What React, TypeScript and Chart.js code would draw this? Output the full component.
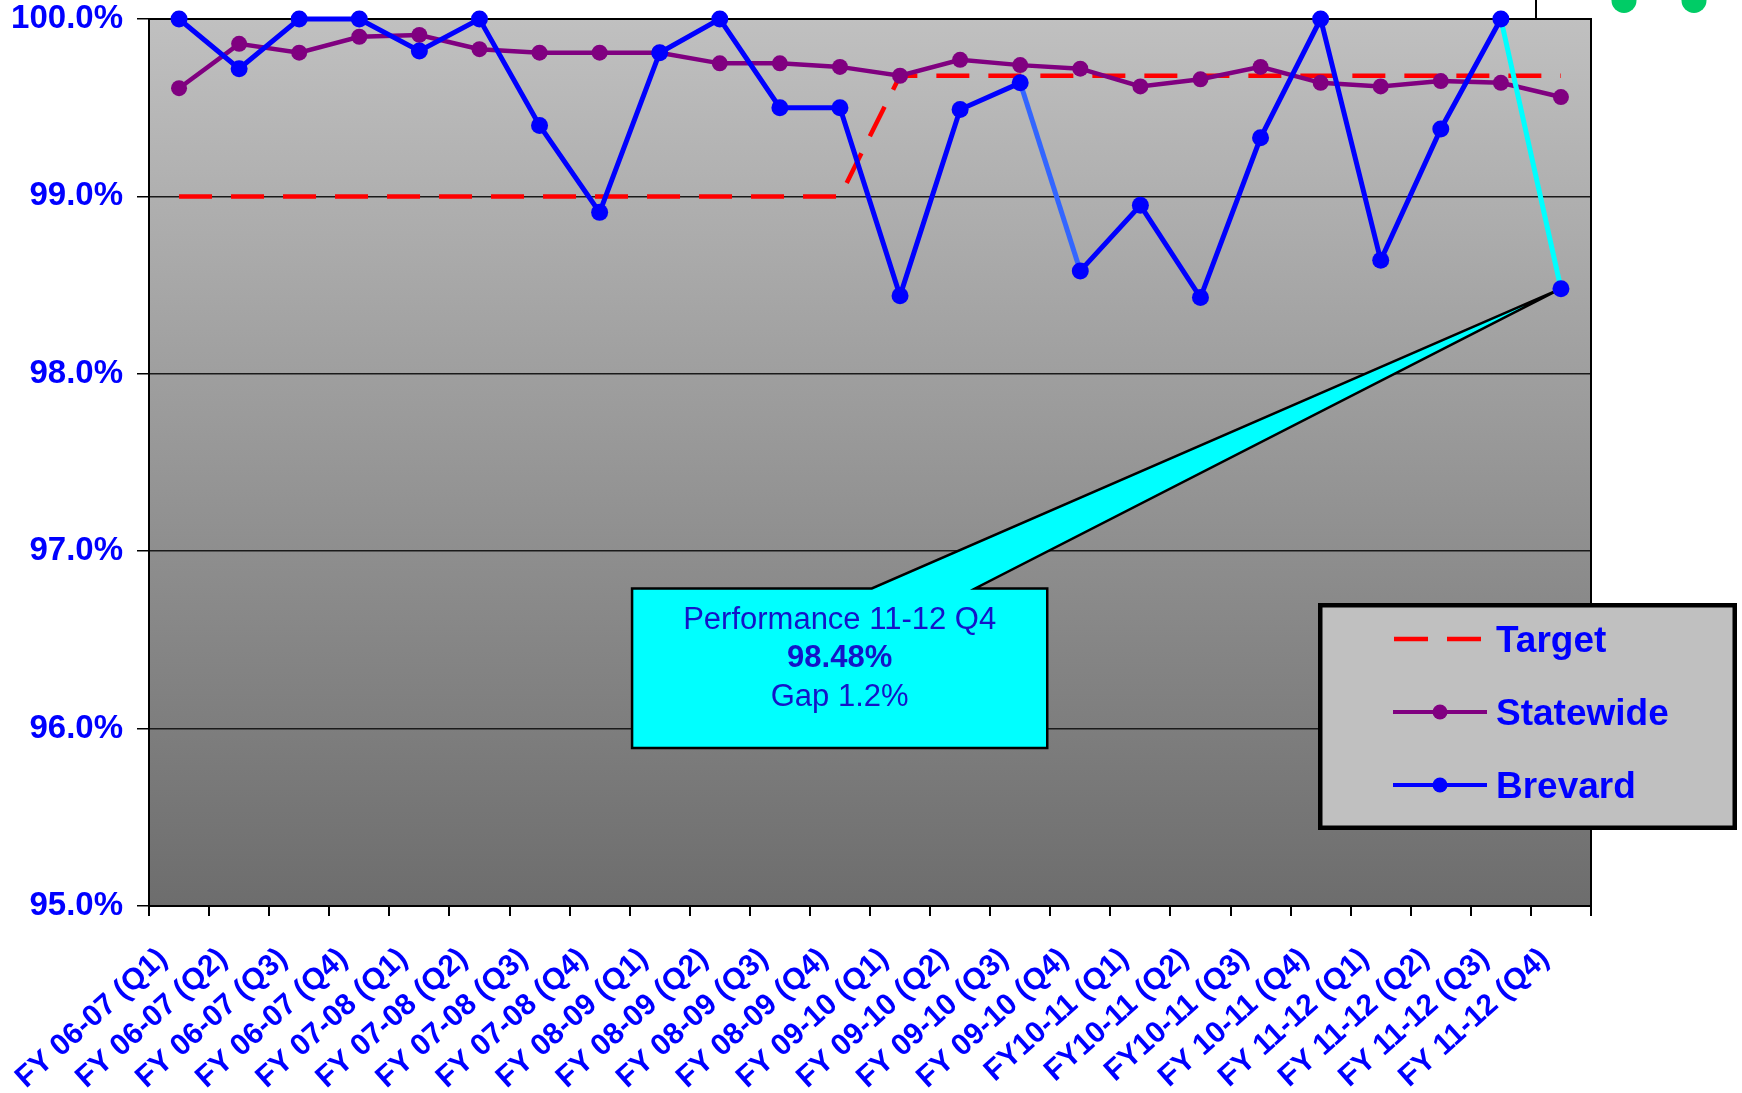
import React, { useEffect, useRef } from "react";
import { Chart, registerables } from "chart.js";

Chart.register(...registerables);

// ---------- data ----------
const categories = [
  "FY 06-07 (Q1)", "FY 06-07 (Q2)", "FY 06-07 (Q3)", "FY 06-07 (Q4)",
  "FY 07-08 (Q1)", "FY 07-08 (Q2)", "FY 07-08 (Q3)", "FY 07-08 (Q4)",
  "FY 08-09 (Q1)", "FY 08-09 (Q2)", "FY 08-09 (Q3)", "FY 08-09 (Q4)",
  "FY 09-10 (Q1)", "FY 09-10 (Q2)", "FY 09-10 (Q3)", "FY 09-10 (Q4)",
  "FY10-11 (Q1)", "FY10-11 (Q2)", "FY10-11 (Q3)", "FY 10-11 (Q4)",
  "FY 11-12 (Q1)", "FY 11-12 (Q2)", "FY 11-12 (Q3)", "FY 11-12 (Q4)",
];

const target = [
  99.0, 99.0, 99.0, 99.0, 99.0, 99.0, 99.0, 99.0, 99.0, 99.0, 99.0, 99.0,
  99.68, 99.68, 99.68, 99.68, 99.68, 99.68, 99.68, 99.68, 99.68, 99.68, 99.68, 99.68,
];

const statewide = [
  99.61, 99.86, 99.81, 99.9, 99.91, 99.83, 99.81, 99.81, 99.81, 99.75, 99.75, 99.73,
  99.68, 99.77, 99.74, 99.72, 99.62, 99.66, 99.73, 99.64, 99.62, 99.65, 99.64, 99.56,
];

const brevard = [
  100.0, 99.72, 100.0, 100.0, 99.82, 100.0, 99.4, 98.91, 99.81, 100.0, 99.5, 99.5,
  98.44, 99.49, 99.64, 98.58, 98.95, 98.43, 99.33, 100.0, 98.64, 99.38, 100.0, 98.48,
];

const yTicks = [95, 96, 97, 98, 99, 100];

const seriesNames = ["Target", "Statewide", "Brevard"];

// callout text
const calloutTitle = "Performance 11-12 Q4";
const calloutValue = "98.48%";
const calloutGap = "Gap 1.2%";

// ---------- styles / layout ----------
const FONT = "'Liberation Sans', Arial, Helvetica, sans-serif";
const BLUE = "#0000FF";
const PURPLE = "#800080";
const RED = "#FF0000";
const CYAN = "#00FFFF";

// callout placement in data units (category index / percent)
const CALLOUT_BOX = { x0: 7.54, x1: 14.45, y0: 96.79, y1: 95.89 };
const CALLOUT_BASE = { x0: 11.53, x1: 13.25 };
const CALLOUT_POINT_INDEX = 23;

const bgPlugin = {
  id: "bgPlugin",
  beforeDraw(chart: any) {
    const { ctx, chartArea: a, width, height } = chart;
    ctx.save();
    ctx.fillStyle = "#FFFFFF";
    ctx.fillRect(0, 0, width, height);
    const g = ctx.createLinearGradient(0, a.top, 0, a.bottom);
    g.addColorStop(0, "#C0C0C0");
    g.addColorStop(1, "#6D6D6D");
    ctx.fillStyle = g;
    ctx.fillRect(a.left, a.top, a.right - a.left, a.bottom - a.top);
    ctx.restore();
  },
};

const calloutPlugin = {
  id: "calloutPlugin",
  beforeDatasetsDraw(chart: any) {
    const { ctx, chartArea: a } = chart;
    const xs = chart.scales.x;
    const ys = chart.scales.y;
    ctx.save();
    // plot border
    ctx.strokeStyle = "#000";
    ctx.lineWidth = 2;
    ctx.strokeRect(a.left, a.top, a.right - a.left, a.bottom - a.top);

    const L = xs.getPixelForValue(CALLOUT_BOX.x0);
    const R = xs.getPixelForValue(CALLOUT_BOX.x1);
    const T = ys.getPixelForValue(CALLOUT_BOX.y0);
    const B = ys.getPixelForValue(CALLOUT_BOX.y1);
    const bL = xs.getPixelForValue(CALLOUT_BASE.x0);
    const bR = xs.getPixelForValue(CALLOUT_BASE.x1);
    const meta = chart.getDatasetMeta(2);
    const pt = meta.data[CALLOUT_POINT_INDEX];
    const tx = pt.x;
    const ty = pt.y;

    ctx.beginPath();
    ctx.moveTo(L, T);
    ctx.lineTo(bL, T);
    ctx.lineTo(tx, ty);
    ctx.lineTo(bR, T);
    ctx.lineTo(R, T);
    ctx.lineTo(R, B);
    ctx.lineTo(L, B);
    ctx.closePath();
    ctx.fillStyle = CYAN;
    ctx.fill();
    ctx.lineWidth = 2.5;
    ctx.lineJoin = "miter";
    ctx.strokeStyle = "#000";
    ctx.stroke();

    const cx = (L + R) / 2;
    const h = B - T;
    ctx.fillStyle = "#1414C8";
    ctx.textAlign = "center";
    ctx.textBaseline = "middle";
    ctx.font = `31px ${FONT}`;
    ctx.fillText(calloutTitle, cx, T + h * 0.2);
    ctx.font = `bold 31px ${FONT}`;
    ctx.fillText(calloutValue, cx, T + h * 0.44);
    ctx.font = `31px ${FONT}`;
    ctx.fillText(calloutGap, cx, T + h * 0.685);
    ctx.restore();
  },
};

const legendPlugin = {
  id: "customLegend",
  afterDraw(chart: any) {
    const { ctx, chartArea: a } = chart;
    ctx.save();
    const left = a.right - 273;
    const top = a.top + 584;
    const w = 419;
    const h = 227;
    ctx.fillStyle = "#C0C0C0";
    ctx.fillRect(left, top, w, h);
    ctx.lineWidth = 4.5;
    ctx.strokeStyle = "#000";
    ctx.strokeRect(left + 2.25, top + 2.25, w - 4.5, h - 4.5);

    const rows = [top + 36, top + 109, top + 182];
    const lx0 = left + 75;
    const lx1 = left + 169;
    const colors = [RED, PURPLE, BLUE];
    rows.forEach((y, i) => {
      ctx.strokeStyle = colors[i];
      ctx.lineWidth = i === 0 ? 4.5 : 4;
      ctx.setLineDash(i === 0 ? [34, 19] : []);
      ctx.beginPath();
      ctx.moveTo(lx0 + (i === 0 ? 1 : 0), y);
      ctx.lineTo(lx1, y);
      ctx.stroke();
      ctx.setLineDash([]);
      if (i > 0) {
        ctx.fillStyle = colors[i];
        ctx.beginPath();
        ctx.arc((lx0 + lx1) / 2, y, 7.5, 0, Math.PI * 2);
        ctx.fill();
      }
      ctx.fillStyle = BLUE;
      ctx.font = `bold 37px ${FONT}`;
      ctx.textAlign = "left";
      ctx.textBaseline = "middle";
      ctx.fillText(seriesNames[i], left + 178, y + 3);
    });

    // stray slide artifacts in the top-right corner
    ctx.strokeStyle = "#000";
    ctx.lineWidth = 2;
    ctx.beginPath();
    ctx.moveTo(a.right - 55, 0);
    ctx.lineTo(a.right - 55, a.top);
    ctx.stroke();
    ctx.fillStyle = "#00CC66";
    [a.right + 33, a.right + 103].forEach((x) => {
      ctx.beginPath();
      ctx.arc(x, 0.5, 12.5, 0, Math.PI * 2);
      ctx.fill();
    });
    ctx.restore();
  },
};

export default function App() {
  const ref = useRef<HTMLCanvasElement | null>(null);

  useEffect(() => {
    if (!ref.current) return;
    const chart = new Chart(ref.current, {
      type: "line",
      data: {
        labels: categories,
        datasets: [
          {
            label: seriesNames[0],
            data: target,
            borderColor: RED,
            backgroundColor: RED,
            borderWidth: 4.5,
            borderDash: [33, 19],
            pointRadius: 0,
            tension: 0,
            order: 2,
          },
          {
            label: seriesNames[1],
            data: statewide,
            borderColor: PURPLE,
            backgroundColor: PURPLE,
            borderWidth: 4.5,
            pointRadius: 8,
            pointBorderWidth: 0,
            pointBackgroundColor: PURPLE,
            tension: 0,
            order: 1,
          },
          {
            label: seriesNames[2],
            data: brevard,
            borderColor: BLUE,
            backgroundColor: BLUE,
            borderWidth: 5,
            pointRadius: 8.5,
            pointBorderWidth: 0,
            pointBackgroundColor: BLUE,
            tension: 0,
            order: 0,
            segment: {
              borderColor: (c: any) =>
                c.p0DataIndex === 14 ? "#3366FF" : c.p0DataIndex === 22 ? CYAN : undefined,
            },
          },
        ],
      },
      options: {
        responsive: false,
        animation: false,
        devicePixelRatio: 1,
        events: [],
        layout: { padding: { top: 19, right: 151, left: 0, bottom: 0 } },
        plugins: {
          legend: { display: false },
          tooltip: { enabled: false },
          title: { display: false },
        },
        datasets: { line: { clip: false as any } },
        scales: {
          x: {
            type: "category",
            offset: true,
            grid: {
              offset: true,
              drawOnChartArea: false,
              drawTicks: true,
              tickLength: 10,
              color: "#000",
              tickColor: "#000",
              lineWidth: 2,
            },
            border: { display: true, color: "#000", width: 2 },
            ticks: {
              autoSkip: false,
              maxRotation: 42,
              minRotation: 42,
              color: BLUE,
              padding: 25,
              labelOffset: -16,
              font: { family: FONT, size: 30, weight: "bold" },
            },
            afterFit: (s: any) => {
              s.height = 187;
              s.paddingLeft = 0;
              s.paddingRight = 0;
              s.paddingTop = 0;
              s.paddingBottom = 0;
            },
          },
          y: {
            min: 95,
            max: 100,
            afterBuildTicks: (s: any) => {
              s.ticks = yTicks.map((v) => ({ value: v }));
            },
            grid: {
              color: "#1a1a1a",
              lineWidth: 1.5,
              drawTicks: true,
              tickLength: 12,
              tickColor: "#000",
            },
            border: { display: true, color: "#000", width: 2 },
            ticks: {
              color: BLUE,
              padding: 14,
              font: { family: FONT, size: 33, weight: "bold", lineHeight: 1 },
              callback: (v: any) => Number(v).toFixed(1) + "%",
            },
            afterFit: (s: any) => {
              s.width = 149;
              s.paddingTop = 0;
              s.paddingBottom = 0;
              s.paddingLeft = 0;
              s.paddingRight = 0;
            },
          },
        },
      },
      plugins: [bgPlugin, calloutPlugin, legendPlugin],
    });
    return () => chart.destroy();
  }, []);

  return (
    <div style={{ position: "fixed", left: 0, top: 0, width: 1742, height: 1093, background: "#fff" }}>
      <canvas ref={ref} width={1742} height={1093} style={{ display: "block" }} />
    </div>
  );
}
